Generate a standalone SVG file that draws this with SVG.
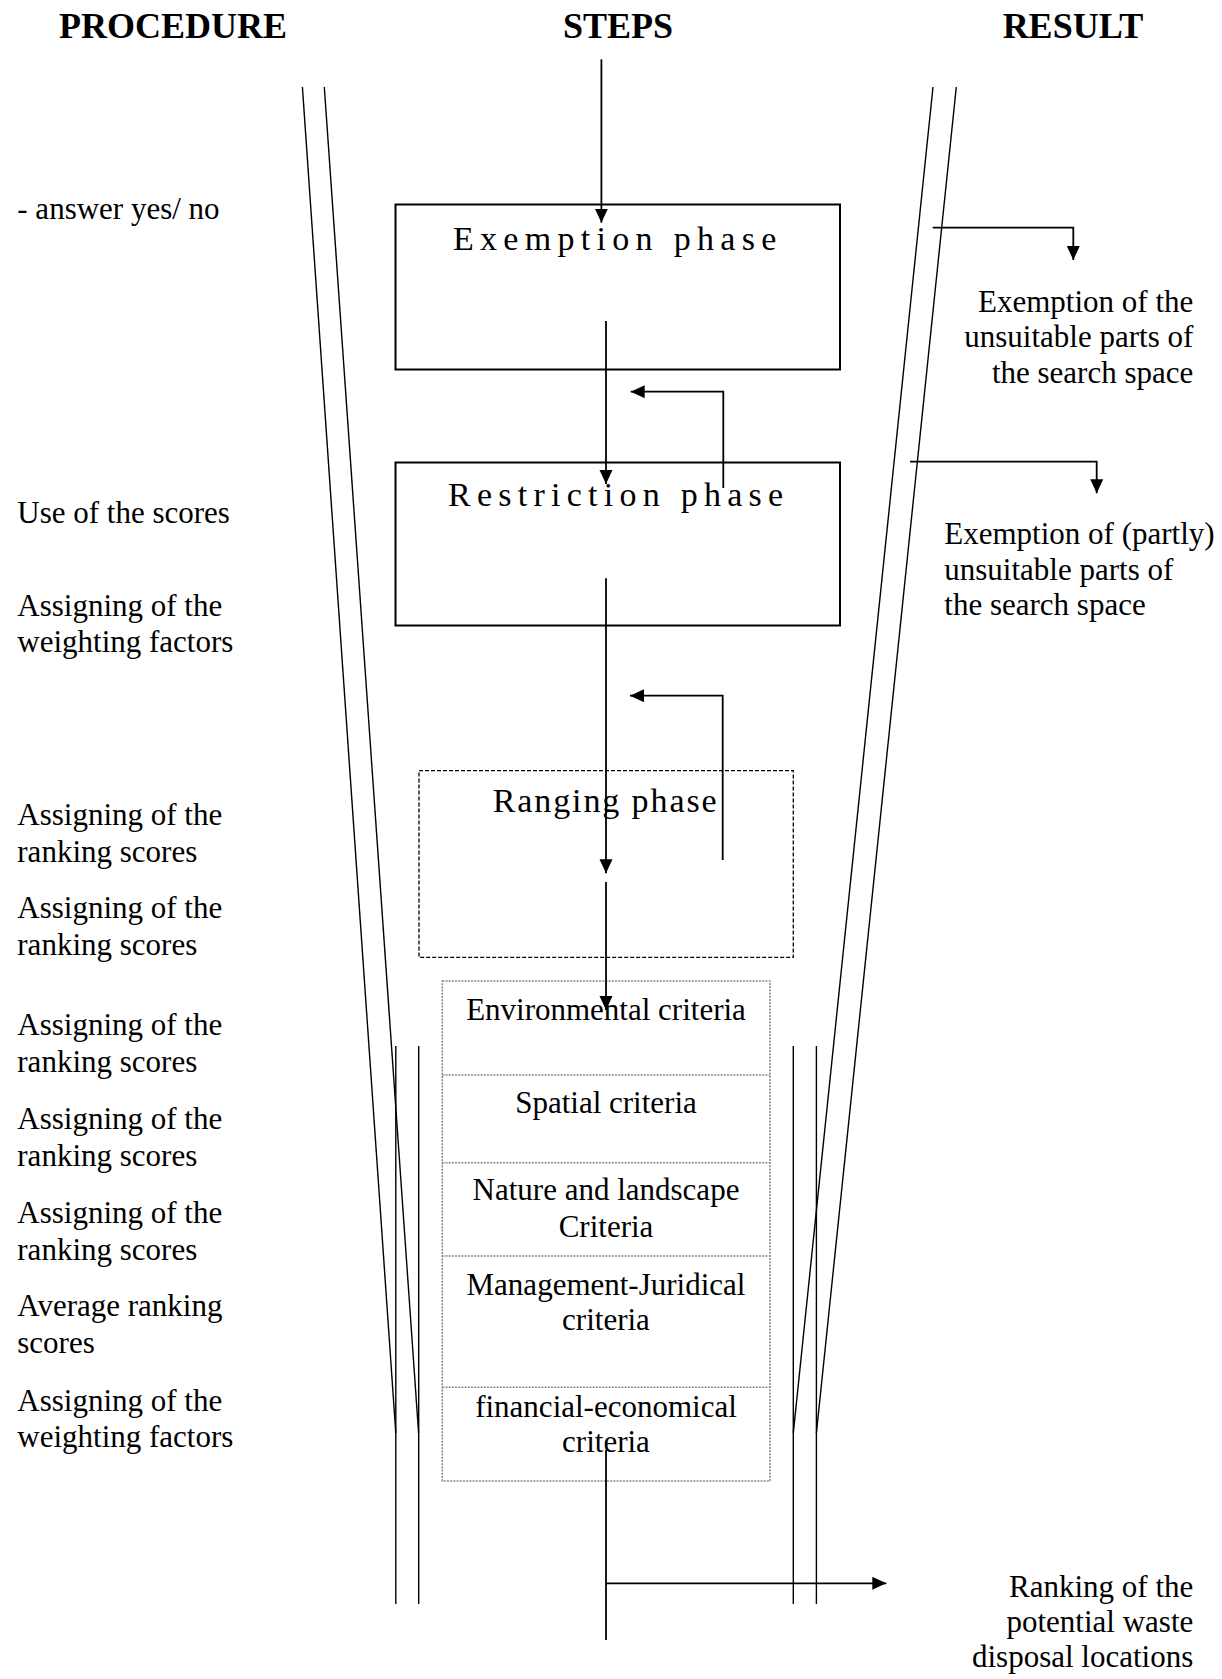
<svg xmlns="http://www.w3.org/2000/svg" width="1222" height="1679" viewBox="0 0 1222 1679">
<style>
text{font-family:"Liberation Serif","Times New Roman",serif;fill:#000}
.hd{font-size:36px;font-weight:bold;text-anchor:middle}
.t{font-size:31px}
.r{font-size:31px;text-anchor:end}
.c{font-size:31px;text-anchor:middle}
.ph{font-size:34px}
.fun{stroke:#000;stroke-width:1.4;fill:none}
.box{stroke:#000;stroke-width:2;fill:none}
.dash{stroke:#000;stroke-width:1.3;fill:none;stroke-dasharray:4 2}
.dot{stroke:#8a8a8a;stroke-width:1.6;fill:none;stroke-dasharray:2 1.2}
.arr{stroke:#000;stroke-width:1.8;fill:none;marker-end:url(#ah)}
.ln{stroke:#000;stroke-width:1.8;fill:none}
</style>
<defs>
<marker id="ah" markerUnits="userSpaceOnUse" markerWidth="15" markerHeight="14" refX="14" refY="6.5" orient="auto">
<path d="M0,0 L14,6.5 L0,13 z" fill="#000"/>
</marker>
</defs>
<g id="headers">
<text class="hd" x="173" y="38">PROCEDURE</text>
<text class="hd" x="618" y="38">STEPS</text>
<text class="hd" x="1073" y="38">RESULT</text>
</g>
<g id="funnel">
<line class="fun" x1="302.4" y1="87" x2="395.8" y2="1433"/>
<line class="fun" x1="324.3" y1="87" x2="418.6" y2="1433"/>
<line class="fun" x1="395.8" y1="1046" x2="395.8" y2="1604"/>
<line class="fun" x1="418.7" y1="1046" x2="418.7" y2="1604"/>
<line class="fun" x1="933" y1="87" x2="793.3" y2="1433"/>
<line class="fun" x1="956.3" y1="87" x2="816.4" y2="1433"/>
<line class="fun" x1="793.3" y1="1046" x2="793.3" y2="1604"/>
<line class="fun" x1="816.4" y1="1046" x2="816.4" y2="1604"/>
</g>
<g id="exemption">
<rect class="box" x="395.5" y="204.5" width="444.5" height="165"/>
<text class="ph" x="453" y="249.5" letter-spacing="6.3">Exemption phase</text>
</g>
<g id="restriction">
<rect class="box" x="395.5" y="462.5" width="444.5" height="163"/>
<text class="ph" x="448" y="505.5" letter-spacing="6.25">Restriction phase</text>
</g>
<g id="ranging">
<rect class="dash" x="419" y="770.7" width="374.3" height="186.6"/>
<text class="ph" x="492.7" y="812.3" letter-spacing="1.9">Ranging phase</text>
</g>
<g id="criteria">
<rect class="dot" x="442.3" y="981" width="327.7" height="500"/>
<line class="dot" x1="442.3" y1="1075" x2="770" y2="1075"/>
<line class="dot" x1="442.3" y1="1162.7" x2="770" y2="1162.7"/>
<line class="dot" x1="442.3" y1="1256" x2="770" y2="1256"/>
<line class="dot" x1="442.3" y1="1387.3" x2="770" y2="1387.3"/>
<text class="c" x="606" y="1020">Environmental criteria</text>
<text class="c" x="606" y="1113.3">Spatial criteria</text>
<text class="c" x="606" y="1200">Nature and landscape</text>
<text class="c" x="606" y="1236.7">Criteria</text>
<text class="c" x="606" y="1295">Management-Juridical</text>
<text class="c" x="606" y="1330">criteria</text>
<text class="c" x="606" y="1416.7">financial-economical</text>
<text class="c" x="606" y="1451.7">criteria</text>
</g>
<g id="procedure-labels">
<text class="t" x="17.3" y="219.3">- answer yes/ no</text>
<text class="t" x="17.3" y="523.3">Use of the scores</text>
<text class="t" x="17.3" y="616"><tspan x="17.3">Assigning of the</tspan><tspan x="17.3" dy="36.4">weighting factors</tspan></text>
<text class="t" x="17.3" y="825"><tspan x="17.3">Assigning of the</tspan><tspan x="17.3" dy="36.6">ranking scores</tspan></text>
<text class="t" x="17.3" y="918.3"><tspan x="17.3">Assigning of the</tspan><tspan x="17.3" dy="36.6">ranking scores</tspan></text>
<text class="t" x="17.3" y="1035"><tspan x="17.3">Assigning of the</tspan><tspan x="17.3" dy="36.6">ranking scores</tspan></text>
<text class="t" x="17.3" y="1129"><tspan x="17.3">Assigning of the</tspan><tspan x="17.3" dy="36.6">ranking scores</tspan></text>
<text class="t" x="17.3" y="1223"><tspan x="17.3">Assigning of the</tspan><tspan x="17.3" dy="36.6">ranking scores</tspan></text>
<text class="t" x="17.3" y="1316.3"><tspan x="17.3">Average ranking</tspan><tspan x="17.3" dy="36.4">scores</tspan></text>
<text class="t" x="17.3" y="1410.5"><tspan x="17.3">Assigning of the</tspan><tspan x="17.3" dy="36.5">weighting factors</tspan></text>
</g>
<g id="result-labels">
<text class="r" x="1193.3" y="311.7"><tspan x="1193.3">Exemption of the</tspan><tspan x="1193.3" dy="35.5">unsuitable parts of</tspan><tspan x="1193.3" dy="35.5">the search space</tspan></text>
<text class="t" x="944.3" y="544.3"><tspan x="944.3">Exemption of (partly)</tspan><tspan x="944.3" dy="35.5">unsuitable parts of</tspan><tspan x="944.3" dy="35.5">the search space</tspan></text>
<text class="r" x="1193.3" y="1597.3"><tspan x="1193.3">Ranking of the</tspan><tspan x="1193.3" dy="34.8">potential waste</tspan><tspan x="1193.3" dy="34.8">disposal locations</tspan></text>
</g>
<g id="connectors">
<line class="arr" x1="601.4" y1="59.3" x2="601.4" y2="222.7"/>
<line class="arr" x1="606" y1="321" x2="606" y2="484"/>
<polyline class="arr" points="723.3,488 723.3,391.7 630.7,391.7"/>
<line class="arr" x1="606" y1="578.3" x2="606" y2="873.3"/>
<polyline class="arr" points="722.7,860 722.7,695.7 630,695.7"/>
<line class="arr" x1="606" y1="882" x2="606" y2="1010"/>
<line class="ln" x1="606" y1="1450" x2="606" y2="1640"/>
<line class="arr" x1="606" y1="1583.3" x2="886.3" y2="1583.3"/>
<polyline class="arr" points="932.7,227.7 1073.3,227.7 1073.3,260"/>
<polyline class="arr" points="910,461.7 1096.7,461.7 1096.7,493.3"/>
</g>
</svg>
